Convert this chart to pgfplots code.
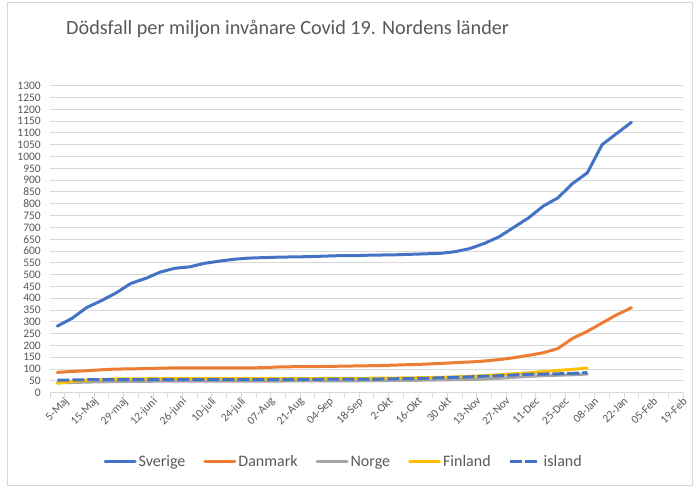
\documentclass[border=0pt]{standalone}
\usepackage{pgfplots}
\pgfplotsset{compat=1.18}
\usepackage{fontspec}
\setmainfont{Carlito}

\definecolor{sverige}{HTML}{4472C4}
\definecolor{danmark}{HTML}{ED7D31}
\definecolor{norge}{HTML}{A5A5A5}
\definecolor{finland}{HTML}{FFC000}
\definecolor{island}{HTML}{4472C4}
\definecolor{txt}{HTML}{595959}
\definecolor{gridc}{HTML}{D9D9D9}

\begin{document}
\begin{tikzpicture}[x=1pt,y=1pt]
\fill[white] (0,0) rectangle (700,495);
\useasboundingbox (0,0) rectangle (700,495);
\draw[gridc, line width=1pt] (7.5,10) rectangle (692,492);

\node[anchor=base west, text=txt, font=\fontsize{20.2}{24}\selectfont, inner sep=0pt]
  at (66,460) {Dödsfall per miljon invånare Covid 19. Nordens länder};

\begin{axis}[
  at={(50pt,102.3pt)}, anchor=south west,
  scale only axis, width=633pt, height=307pt,
  xmin=-0.5, xmax=42.5, ymin=0, ymax=1300,
  axis x line*=bottom, axis y line*=left,
  x axis line style={draw=gridc, line width=1pt, -},
  y axis line style={draw=none},
  ytick={0,50,...,1300},
  ymajorgrids, grid style={draw=gridc, line width=1pt},
  xtick={0,2,...,42},
  xticklabels={5-Maj,15-Maj,29-maj,12-juni,26-juni,10-juli,24-juli,07-Aug,21-Aug,04-Sep,18-Sep,2-Okt,16-Okt,30 okt,13-Nov,27-Nov,11-Dec,25-Dec,08-Jan,22-Jan,05-Feb,19-Feb},
  minor xtick={-0.5,0.5,...,42.5},
  major tick length=0pt, minor tick length=5pt, tick align=outside,
  minor tick style={draw=gridc, line width=1pt},
  major tick style={draw=none},
  /pgf/number format/assume math mode=true,
  /pgf/number format/set thousands separator={},
  ticklabel style={text=txt, font=\fontsize{11.5}{11.5}\selectfont},
  yticklabel style={anchor=east, xshift=-9pt, inner sep=0pt},
  xticklabel style={rotate=45, anchor=north east, inner sep=0pt, xshift=2pt, yshift=-7pt},
  legend columns=5,
  legend style={at={(0.464,-0.2257)}, anchor=center, draw=none, fill=none,
    font=\fontsize{16}{18}\selectfont, text=txt,
    nodes={inner xsep=2pt},
    /tikz/every even column/.append style={column sep=16pt}},
  legend cell align=left,
  legend image code/.code={\draw[#1] (0pt,0pt) -- (30pt,0pt);},
  every axis plot/.append style={line width=3pt, line join=round, line cap=round},
]
\addplot[sverige] coordinates {
(0,282)(1,315)(2,361)(3,390)(4,423)(5,463)(6,484)(7,511)(8,527)(9,533)
(10,548)(11,557)(12,565)(13,570)(14,572)(15,574)(16,575)(17,576)(18,578)(19,580)
(20,580)(21,582)(22,583)(23,584)(24,586)(25,588)(26,590)(27,597)(28,610)(29,632)
(30,660)(31,700)(32,740)(33,790)(34,825)(35,886)(36,931)(37,1050)(38,1098)(39,1145)};
\addlegendentry{Sverige}
\addplot[danmark] coordinates {
(0,86)(1,90)(2,93)(3,97)(4,100)(5,101)(6,102)(7,104)(8,105)(9,105)
(10,105)(11,105)(12,105)(13,105)(14,106)(15,109)(16,110)(17,110)(18,111)(19,112)
(20,113)(21,114)(22,115)(23,117)(24,119)(25,121)(26,124)(27,127)(28,130)(29,134)
(30,140)(31,148)(32,158)(33,169)(34,187)(35,230)(36,260)(37,295)(38,330)(39,360)};
\addlegendentry{Danmark}
\addplot[norge] coordinates {
(0,42)(1,43)(2,45)(3,46)(4,47)(5,48)(6,48)(7,49)(8,49)(9,49)
(10,49)(11,49)(12,49)(13,49)(14,49)(15,49)(16,50)(17,50)(18,50)(19,50)
(20,50)(21,51)(22,51)(23,52)(24,52)(25,53)(26,54)(27,55)(28,56)(29,58)
(30,61)(31,65)(32,69)(33,72)(34,74)(35,76)(36,79)};
\addlegendentry{Norge}
\addplot[finland] coordinates {
(0,40)(1,48)(2,53)(3,56)(4,58)(5,59)(6,59)(7,60)(8,60)(9,60)
(10,60)(11,60)(12,60)(13,60)(14,60)(15,60)(16,60)(17,60)(18,60)(19,61)
(20,61)(21,61)(22,62)(23,62)(24,63)(25,64)(26,65)(27,67)(28,69)(29,72)
(30,76)(31,80)(32,84)(33,89)(34,94)(35,99)(36,104)};
\addlegendentry{Finland}
\addplot[island, line cap=butt, dash pattern=on 12pt off 3pt] coordinates {
(0,53)(1,54)(2,55)(3,55)(4,55)(5,55)(6,55)(7,55)(8,55)(9,55)
(10,55)(11,55)(12,55)(13,55)(14,55)(15,56)(16,56)(17,56)(18,57)(19,57)
(20,57)(21,58)(22,58)(23,59)(24,60)(25,61)(26,63)(27,65)(28,67)(29,70)
(30,72)(31,75)(32,78)(33,79)(34,80)(35,82)(36,85)};
\addlegendentry{island}
\end{axis}
\end{tikzpicture}
\end{document}
